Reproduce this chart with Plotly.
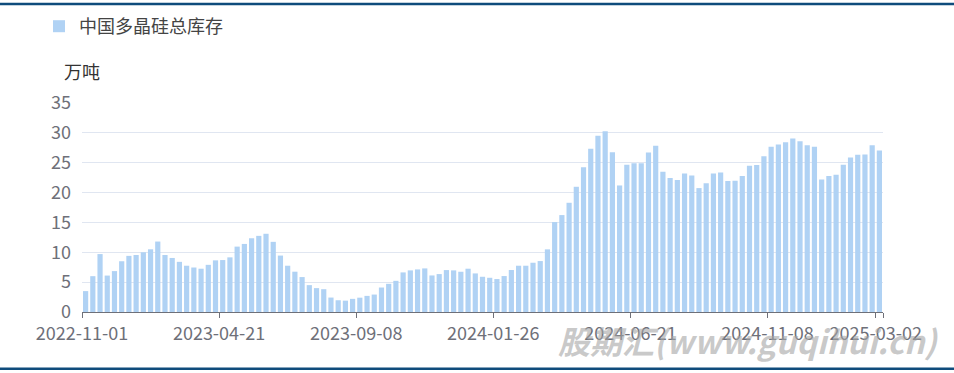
import plotly.graph_objects as go

# ---- data ----
series_name = "中国多晶硅总库存"
y_unit = "万吨"

dates = (
    ["2022-11-01",
     "2022-11-11", "2022-11-18", "2022-11-25", "2022-12-02", "2022-12-09", "2022-12-16",
     "2022-12-23", "2023-01-06", "2023-01-13", "2023-02-10", "2023-02-17", "2023-02-24",
     "2023-03-03", "2023-03-10", "2023-03-17", "2023-03-24", "2023-04-07", "2023-04-14",
     "2023-04-21",
     "2023-04-28", "2023-05-05", "2023-05-12", "2023-05-19", "2023-05-26", "2023-06-02",
     "2023-06-09", "2023-06-16", "2023-06-30", "2023-07-07", "2023-07-14", "2023-07-21",
     "2023-07-28", "2023-08-04", "2023-08-11", "2023-08-18", "2023-08-25", "2023-09-01",
     "2023-09-08",
     "2023-09-15", "2023-09-22", "2023-09-29", "2023-10-13", "2023-10-20", "2023-10-27",
     "2023-11-03", "2023-11-10", "2023-11-17", "2023-11-24", "2023-12-01", "2023-12-08",
     "2023-12-15", "2023-12-22", "2023-12-29", "2024-01-05", "2024-01-12", "2024-01-19",
     "2024-01-26",
     "2024-02-02", "2024-02-23", "2024-03-01", "2024-03-08", "2024-03-15", "2024-03-22",
     "2024-03-29", "2024-04-05", "2024-04-12", "2024-04-19", "2024-04-26", "2024-05-03",
     "2024-05-10", "2024-05-17", "2024-05-24", "2024-05-31", "2024-06-07", "2024-06-14",
     "2024-06-21",
     "2024-06-28", "2024-07-05", "2024-07-12", "2024-07-19", "2024-07-26", "2024-08-02",
     "2024-08-09", "2024-08-16", "2024-08-23", "2024-08-30", "2024-09-06", "2024-09-13",
     "2024-09-20", "2024-09-27", "2024-10-11", "2024-10-18", "2024-10-25", "2024-11-01",
     "2024-11-08",
     "2024-11-15", "2024-11-22", "2024-11-29", "2024-12-06", "2024-12-13", "2024-12-20",
     "2024-12-27", "2025-01-03", "2025-01-10", "2025-01-17", "2025-01-24", "2025-02-14",
     "2025-02-21", "2025-02-28",
     "2025-03-02"]
)

inventory = [
    3.5, 6.0, 9.7, 6.1, 6.85, 8.5, 9.4, 9.55, 10.0, 10.5,
    11.8, 9.55, 9.05, 8.4, 7.75, 7.45, 7.25, 7.9, 8.65, 8.7,
    9.15, 10.95, 11.4, 12.35, 12.75, 13.1, 11.75, 9.45, 7.75, 6.75,
    5.85, 4.5, 4.0, 3.82, 2.42, 1.97, 1.9, 2.2,
    2.4, 2.7, 2.92, 4.1, 4.72, 5.22, 6.63, 6.97, 7.13, 7.3,
    6.12, 6.35, 7.02, 6.97, 6.74, 7.25, 6.46, 5.9, 5.73,
    5.52, 6.02, 7.03, 7.75, 7.75, 8.25, 8.53, 10.49, 15.06, 16.23,
    18.29, 20.97, 24.26, 27.33, 29.5, 30.28, 26.77, 21.19, 24.65,
    24.9, 24.93, 26.71, 27.83, 23.48, 22.42, 22.09, 23.2, 22.87, 20.75,
    21.58, 23.2, 23.37, 21.92, 21.97, 22.76, 24.48, 24.6, 26.1,
    27.66, 28.05, 28.44, 29.06, 28.61, 27.94, 27.66, 22.2, 22.76, 22.98,
    24.65, 25.88, 26.32, 26.38, 27.94, 27.05,
]

label_every = 19
y_ticks = [0, 5, 10, 15, 20, 25, 30, 35]
watermark = "股期汇(www.guqihui.cn)"

# ---- figure ----
n = len(dates)
idx = list(range(n))
label_idx = list(range(0, n, label_every))
if label_idx[-1] != n - 1:
    label_idx.append(n - 1)
tickvals = label_idx + [n]
ticktext = [dates[i] for i in label_idx] + [""]

W, H = 954, 373
ML, MR, MT, MB = 82, 71, 103, 61
PW = W - ML - MR
PH = H - MT - MB

def px_x(p):
    return (p - ML) / PW

def px_y(p):
    return (H - MB - p) / PH

FONT = "Noto Sans CJK SC, Noto Sans, sans-serif"
AXIS_C = "#6e7079"

fig = go.Figure()
fig.add_trace(go.Bar(
    x=[i + 0.5 for i in idx],
    y=inventory,
    customdata=dates,
    name=series_name,
    width=0.72,
    marker=dict(color="#b0d2f4", line=dict(width=0)),
    hovertemplate="%{customdata}<br>%{y}<extra></extra>",
))

fig.update_layout(
    width=W, height=H,
    margin=dict(l=ML, r=MR, t=MT, b=MB, autoexpand=False),
    paper_bgcolor="white",
    plot_bgcolor="white",
    font=dict(family=FONT, size=18, color=AXIS_C),
    showlegend=True,
    legend=dict(
        x=39 / W, y=1 - 8 / H, xref="container", yref="container",
        xanchor="left", yanchor="top",
        orientation="h",
        font=dict(size=18, color="#444444", family=FONT),
        bgcolor="rgba(0,0,0,0)",
    ),
    bargap=0.28,
    xaxis=dict(
        range=[0, n],
        tickmode="array",
        tickvals=tickvals,
        ticktext=ticktext,
        ticks="outside",
        ticklen=5,
        tickcolor=AXIS_C,
        showline=True,
        linecolor=AXIS_C,
        linewidth=1,
        showgrid=False,
        zeroline=False,
        tickfont=dict(size=18, color=AXIS_C, family=FONT),
        fixedrange=True,
    ),
    yaxis=dict(
        range=[0, 35],
        tickmode="array",
        tickvals=y_ticks,
        showgrid=True,
        gridcolor="#e0e6f1",
        gridwidth=1,
        zeroline=False,
        showline=False,
        ticks="",
        ticklabelstandoff=10,
        tickfont=dict(size=18, color=AXIS_C, family=FONT),
        fixedrange=True,
    ),
)

# axis name
fig.add_annotation(
    x=0, y=px_y(71), xref="paper", yref="paper",
    text=y_unit, showarrow=False, xanchor="center", yanchor="middle",
    font=dict(size=18, color="#333333", family=FONT),
)

# watermark
fig.add_annotation(
    x=px_x(748), y=px_y(340), xref="paper", yref="paper",
    text="<b>" + watermark + "</b>", showarrow=False,
    xanchor="center", yanchor="middle",
    font=dict(size=32, color="rgba(165,165,165,0.6)", family=FONT, style="italic"),
)

# top and bottom rules
for yp in (4, 368.7):
    fig.add_shape(
        type="line", xref="paper", yref="paper",
        x0=px_x(0), x1=px_x(W), y0=px_y(yp), y1=px_y(yp),
        line=dict(color="#0f4c7c", width=2.5),
    )

fig.write_html("out.html")
